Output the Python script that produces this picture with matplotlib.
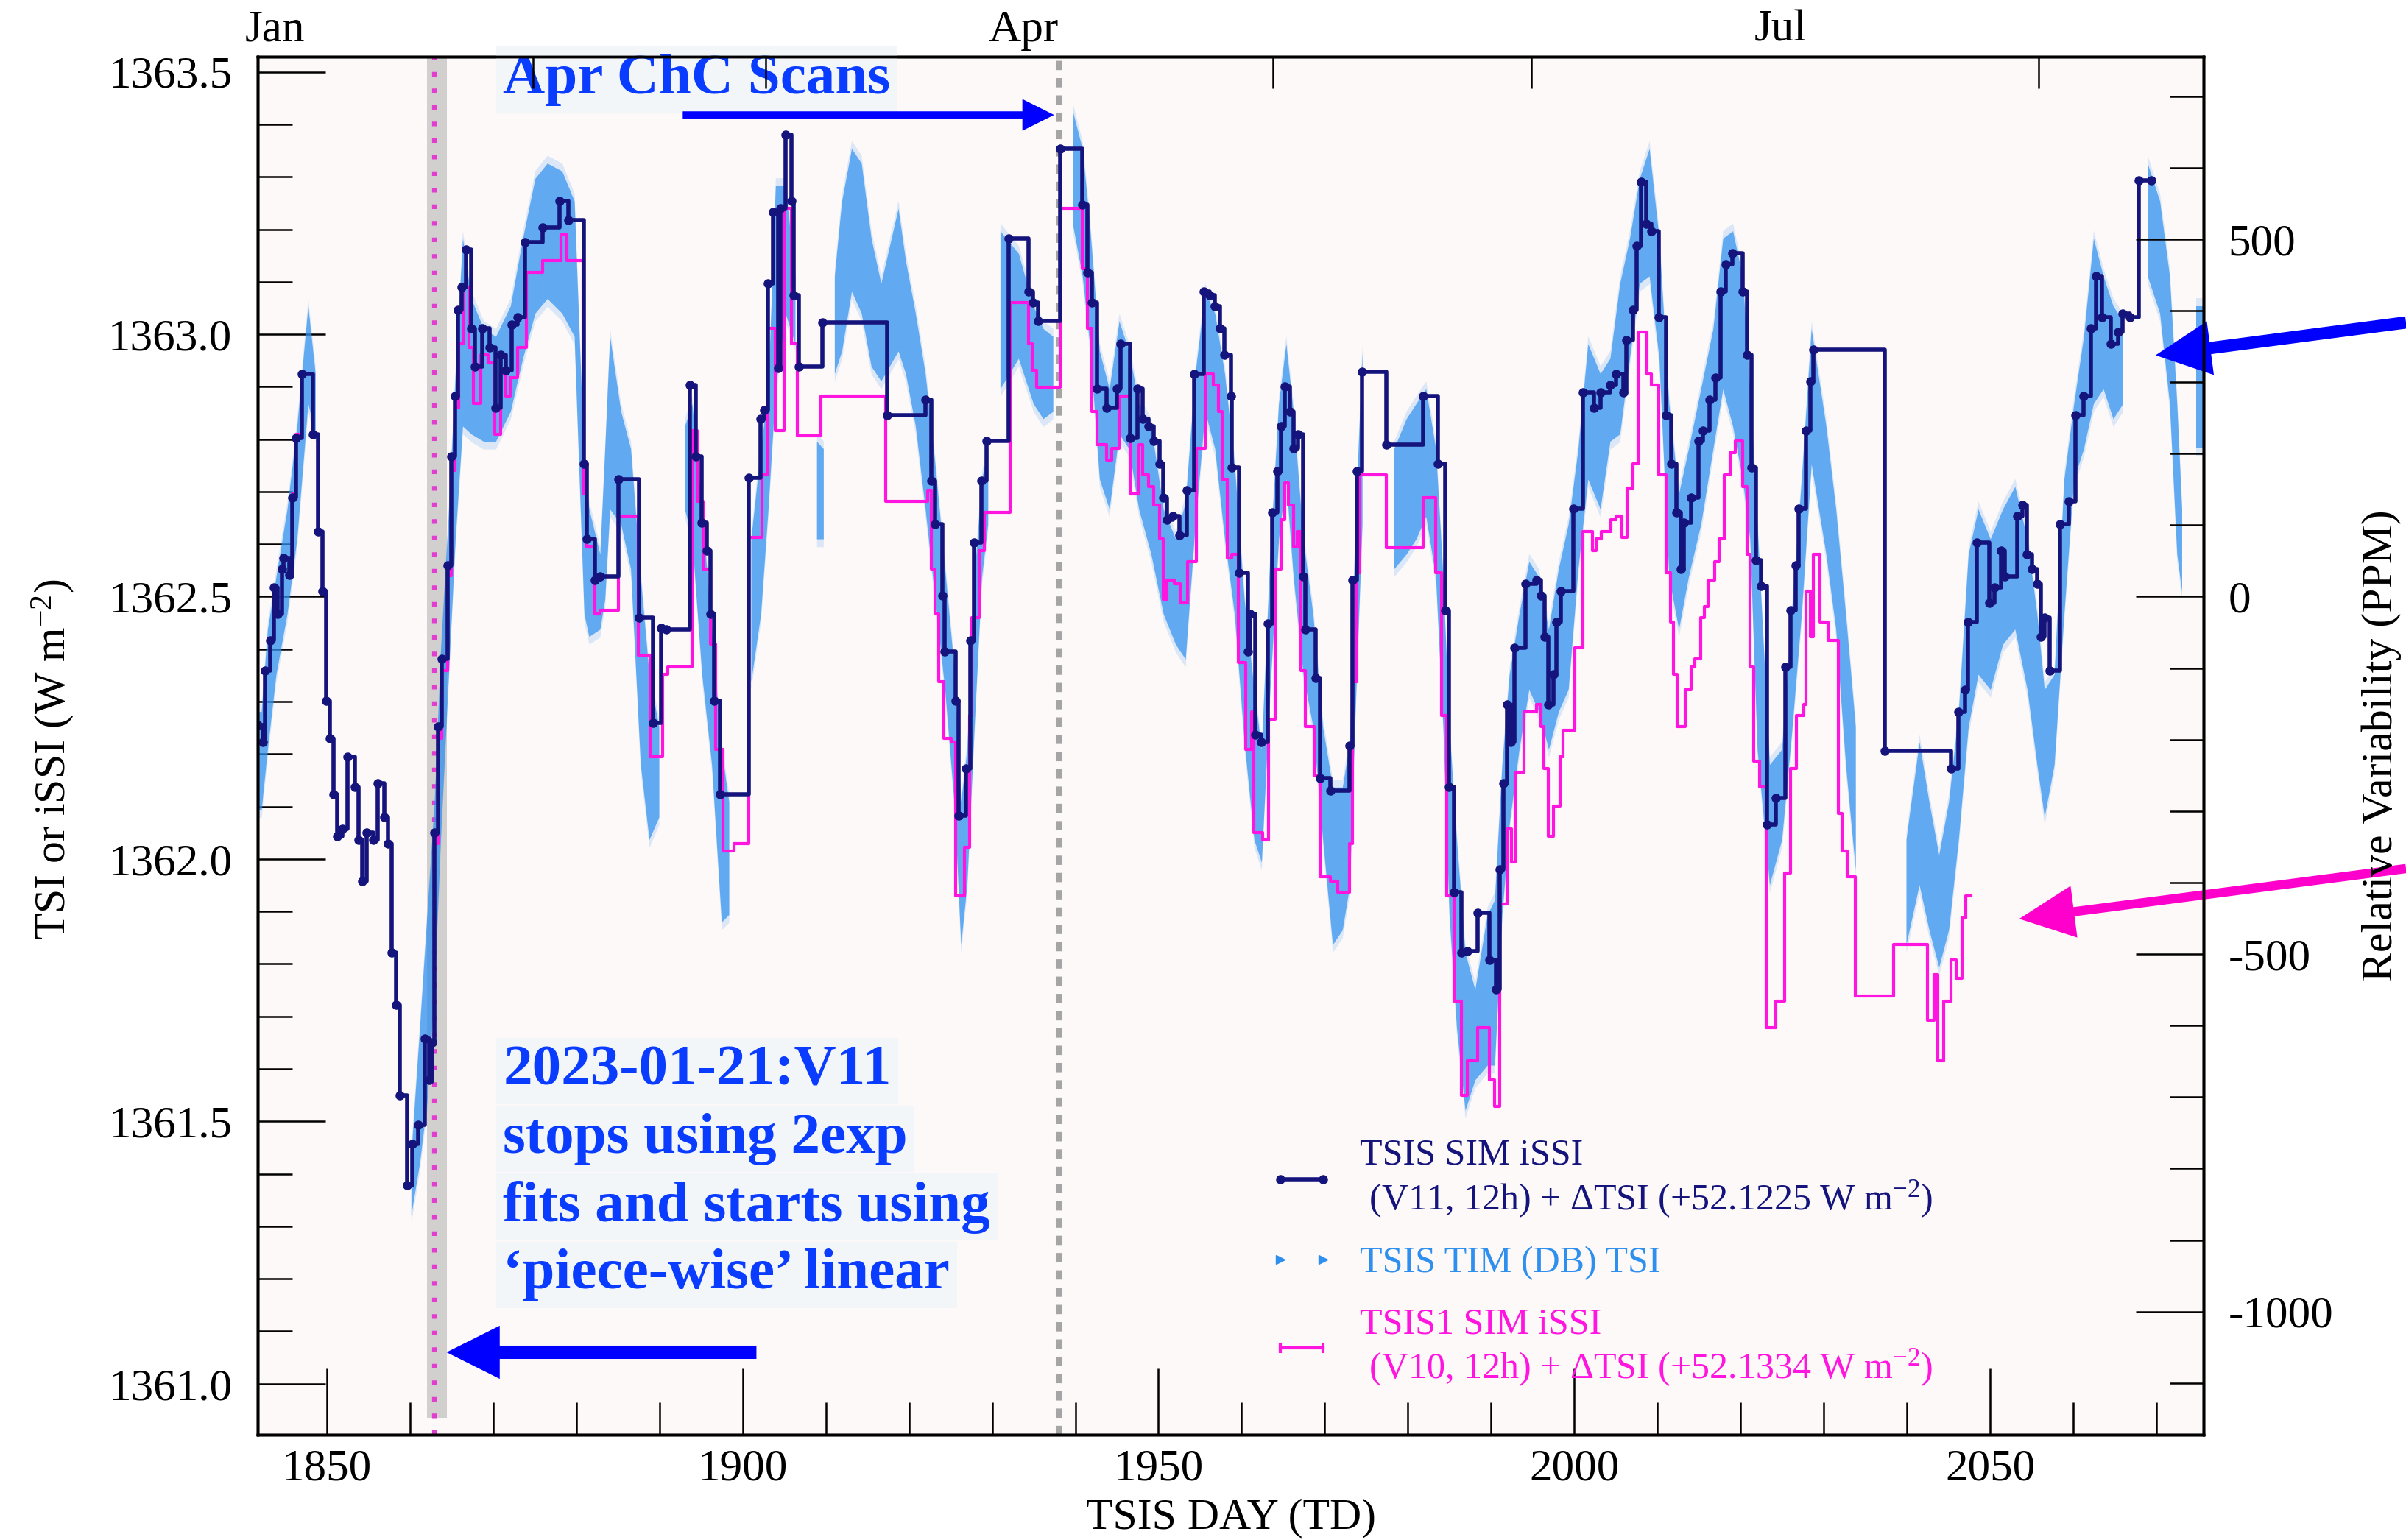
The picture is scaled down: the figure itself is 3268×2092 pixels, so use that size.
import matplotlib
matplotlib.use("Agg")
import matplotlib.pyplot as plt
from matplotlib.lines import Line2D
from matplotlib.ticker import MultipleLocator, FixedLocator

plt.rcParams['font.family'] = ['Liberation Serif', 'DejaVu Serif']
plt.rcParams['mathtext.fontset'] = 'custom'
plt.rcParams['mathtext.rm'] = 'Liberation Serif'
plt.rcParams['mathtext.it'] = 'Liberation Serif:italic'
plt.rcParams['mathtext.bf'] = 'Liberation Serif:bold'
plt.rcParams['axes.unicode_minus'] = False

# TSIS SIM iSSI V11 (step start day, W m-2)
v11 = [
    (1841.69, 1362.255), (1842.28, 1362.223), (1842.58, 1362.359), (1843.17, 1362.416),
    (1843.61, 1362.517), (1844.05, 1362.467), (1844.64, 1362.553), (1844.79, 1362.574),
    (1845.53, 1362.541), (1845.82, 1362.689), (1846.26, 1362.803), (1847.00, 1362.925),
    (1848.33, 1362.810), (1848.92, 1362.624), (1849.51, 1362.510), (1849.95, 1362.302),
    (1850.40, 1362.230), (1850.84, 1362.123), (1851.28, 1362.044), (1851.87, 1362.058),
    (1852.46, 1362.195), (1853.35, 1362.137), (1853.79, 1362.037), (1854.23, 1361.958),
    (1854.82, 1362.051), (1855.56, 1362.037), (1856.15, 1362.144), (1856.89, 1362.080),
    (1857.33, 1362.030), (1857.77, 1361.822), (1858.36, 1361.722), (1858.81, 1361.550),
    (1859.69, 1361.378), (1860.28, 1361.457), (1861.02, 1361.493), (1861.76, 1361.658),
    (1862.35, 1361.579), (1862.70, 1361.650), (1862.94, 1362.051), (1863.38, 1362.252),
    (1863.82, 1362.381), (1864.56, 1362.560), (1865.00, 1362.767), (1865.45, 1362.882),
    (1865.74, 1363.047), (1866.18, 1363.090), (1866.77, 1363.161), (1867.36, 1363.011),
    (1867.81, 1362.939), (1868.69, 1363.011), (1869.58, 1362.975), (1870.31, 1362.860),
    (1870.90, 1362.961), (1871.50, 1362.932), (1872.23, 1363.018), (1872.97, 1363.032),
    (1873.86, 1363.175), (1875.92, 1363.204), (1877.99, 1363.254), (1879.02, 1363.218),
    (1880.94, 1362.753), (1881.23, 1362.610), (1882.26, 1362.531), (1882.85, 1362.538),
    (1885.07, 1362.724), (1887.57, 1362.460), (1889.20, 1362.259), (1890.23, 1362.441),
    (1890.82, 1362.438), (1893.62, 1362.903), (1894.36, 1362.767), (1895.10, 1362.641),
    (1895.69, 1362.588), (1896.13, 1362.467), (1896.58, 1362.302), (1897.31, 1362.123),
    (1900.71, 1362.727), (1902.18, 1362.839), (1902.62, 1362.856), (1903.07, 1363.097),
    (1903.66, 1363.233), (1904.25, 1362.936), (1904.54, 1363.240), (1905.13, 1363.380),
    (1905.87, 1363.254), (1906.17, 1363.075), (1906.76, 1362.939), (1909.56, 1363.022),
    (1917.38, 1362.846), (1921.96, 1362.875), (1922.70, 1362.721), (1923.14, 1362.638),
    (1924.03, 1362.502), (1924.32, 1362.395), (1925.65, 1362.302), (1925.94, 1362.083),
    (1926.83, 1362.173), (1927.42, 1362.416), (1927.86, 1362.603), (1928.75, 1362.721),
    (1929.34, 1362.796), (1931.99, 1363.183), (1934.36, 1363.082), (1934.95, 1363.061),
    (1935.54, 1363.025), (1938.19, 1363.354), (1940.85, 1363.247), (1941.44, 1363.118),
    (1942.03, 1363.061), (1942.62, 1362.896), (1943.80, 1362.860), (1944.98, 1362.896),
    (1945.42, 1362.982), (1946.60, 1362.803), (1947.49, 1362.896), (1948.08, 1362.839),
    (1948.81, 1362.825), (1949.40, 1362.796), (1950.14, 1362.753), (1950.59, 1362.689),
    (1951.03, 1362.646), (1951.77, 1362.653), (1952.50, 1362.617), (1953.39, 1362.703),
    (1954.27, 1362.925), (1955.45, 1363.082), (1956.19, 1363.075), (1956.78, 1363.054),
    (1957.37, 1363.011), (1957.96, 1362.961), (1958.70, 1362.882), (1958.85, 1362.746),
    (1959.73, 1362.545), (1960.76, 1362.395), (1961.06, 1362.467), (1961.65, 1362.237),
    (1962.39, 1362.223), (1963.12, 1362.449), (1963.71, 1362.660), (1964.30, 1362.739),
    (1964.75, 1362.825), (1965.19, 1362.900), (1965.78, 1362.853), (1966.22, 1362.782),
    (1966.81, 1362.810), (1967.40, 1362.538), (1967.70, 1362.438), (1968.88, 1362.345),
    (1969.47, 1362.154), (1970.65, 1362.130), (1973.01, 1362.216), (1973.31, 1362.531),
    (1973.90, 1362.739), (1974.49, 1362.928), (1977.44, 1362.789), (1981.86, 1362.882),
    (1983.63, 1362.753), (1984.52, 1362.474), (1984.96, 1362.137), (1985.55, 1361.937),
    (1986.44, 1361.822), (1987.17, 1361.825), (1988.36, 1361.897), (1989.83, 1361.808),
    (1990.57, 1361.751), (1991.01, 1361.980), (1991.45, 1362.144), (1991.90, 1362.295),
    (1992.34, 1362.223), (1992.78, 1362.402), (1994.11, 1362.524), (1995.44, 1362.531),
    (1996.03, 1362.502), (1996.47, 1362.424), (1996.91, 1362.295), (1997.50, 1362.352),
    (1997.81, 1362.452), (1998.40, 1362.510), (1999.87, 1362.667), (2001.05, 1362.889),
    (2002.38, 1362.860), (2003.12, 1362.889), (2004.30, 1362.903), (2005.03, 1362.925),
    (2005.92, 1362.889), (2006.22, 1362.989), (2007.10, 1363.047), (2007.54, 1363.168),
    (2007.99, 1363.290), (2008.66, 1363.211), (2009.31, 1363.197), (2010.20, 1363.032),
    (2011.08, 1362.846), (2011.67, 1362.753), (2012.27, 1362.660), (2012.80, 1362.553),
    (2013.15, 1362.641), (2014.04, 1362.689), (2014.92, 1362.796), (2015.51, 1362.817),
    (2016.25, 1362.875), (2016.99, 1362.918), (2017.58, 1363.082), (2018.17, 1363.133),
    (2019.05, 1363.154), (2020.23, 1363.082), (2020.82, 1362.961), (2021.27, 1362.746),
    (2021.86, 1362.570), (2022.45, 1362.521), (2023.18, 1362.066), (2024.22, 1362.116),
    (2025.40, 1362.366), (2025.99, 1362.474), (2026.58, 1362.560), (2027.02, 1362.667),
    (2027.90, 1362.817), (2028.35, 1362.911), (2028.73, 1362.971), (2037.35, 1362.206),
    (2045.31, 1362.173), (2046.20, 1362.281), (2046.94, 1362.323), (2047.38, 1362.452),
    (2048.41, 1362.603), (2049.89, 1362.488), (2050.48, 1362.517), (2051.36, 1362.588),
    (2051.80, 1362.538), (2053.28, 1362.653), (2053.87, 1362.674), (2054.46, 1362.581),
    (2055.05, 1362.553), (2055.64, 1362.524), (2056.08, 1362.424), (2056.53, 1362.460),
    (2057.12, 1362.359), (2058.44, 1362.638), (2059.48, 1362.681), (2060.22, 1362.846),
    (2061.25, 1362.882), (2062.13, 1363.011), (2062.72, 1363.111), (2063.46, 1363.032),
    (2064.49, 1362.982), (2065.38, 1363.004), (2065.97, 1363.040), (2066.85, 1363.032),
    (2067.89, 1363.294), (2069.36, 1363.294),
]

# TSIS1 SIM iSSI V10 (step start day, W m-2)
v10 = [
    (1841.69, 1362.255), (1842.28, 1362.223), (1842.58, 1362.359), (1843.17, 1362.416),
    (1843.61, 1362.517), (1844.05, 1362.467), (1844.64, 1362.553), (1844.79, 1362.574),
    (1845.53, 1362.541), (1845.82, 1362.696), (1846.26, 1362.810), (1847.00, 1362.925),
    (1848.33, 1362.810), (1848.92, 1362.624), (1849.51, 1362.510), (1849.95, 1362.302),
    (1850.40, 1362.230), (1850.84, 1362.123), (1851.28, 1362.044), (1851.87, 1362.058),
    (1852.46, 1362.195), (1853.35, 1362.137), (1853.79, 1362.037), (1854.23, 1361.958),
    (1854.82, 1362.051), (1855.56, 1362.037), (1856.15, 1362.144), (1856.89, 1362.080),
    (1857.33, 1362.030), (1857.77, 1361.822), (1858.36, 1361.722), (1858.81, 1361.550),
    (1859.69, 1361.378), (1860.28, 1361.457), (1861.02, 1361.493), (1861.76, 1361.658),
    (1862.35, 1361.579), (1862.70, 1361.650), (1862.94, 1362.030), (1863.38, 1362.230),
    (1863.82, 1362.359), (1864.56, 1362.540), (1865.00, 1362.740), (1865.45, 1362.860),
    (1865.89, 1362.982), (1866.48, 1363.090), (1867.07, 1362.975), (1867.66, 1362.868),
    (1868.54, 1362.961), (1869.43, 1362.946), (1870.17, 1362.810), (1870.90, 1362.925),
    (1871.50, 1362.882), (1872.08, 1362.918), (1872.97, 1362.975), (1874.00, 1363.118),
    (1875.92, 1363.140), (1878.13, 1363.190), (1878.87, 1363.140), (1880.79, 1362.696),
    (1881.23, 1362.595), (1882.26, 1362.467), (1882.85, 1362.474), (1885.07, 1362.653),
    (1887.43, 1362.388), (1888.90, 1362.195), (1890.38, 1362.352), (1890.97, 1362.366),
    (1893.92, 1362.817), (1894.51, 1362.681), (1895.25, 1362.553), (1896.13, 1362.409),
    (1896.72, 1362.209), (1897.61, 1362.016), (1898.94, 1362.030), (1900.71, 1362.613),
    (1902.33, 1362.732), (1903.07, 1363.011), (1903.95, 1362.817), (1904.99, 1363.240),
    (1905.87, 1362.982), (1906.61, 1362.806), (1909.41, 1362.882), (1917.23, 1362.681),
    (1922.26, 1362.703), (1922.70, 1362.553), (1923.14, 1362.467), (1923.58, 1362.338),
    (1924.17, 1362.230), (1925.06, 1362.223), (1925.65, 1361.930), (1926.68, 1362.023),
    (1927.27, 1362.273), (1927.57, 1362.460), (1928.45, 1362.588), (1929.04, 1362.660),
    (1932.14, 1363.061), (1934.36, 1362.982), (1934.80, 1362.932), (1935.39, 1362.899),
    (1938.19, 1363.240), (1940.85, 1363.125), (1941.44, 1363.011), (1942.03, 1362.853),
    (1942.62, 1362.789), (1943.80, 1362.760), (1944.39, 1362.782), (1945.27, 1362.882),
    (1946.60, 1362.696), (1947.63, 1362.789), (1948.08, 1362.732), (1948.81, 1362.710),
    (1949.40, 1362.674), (1950.14, 1362.610), (1950.59, 1362.495), (1951.03, 1362.531),
    (1951.91, 1362.524), (1952.65, 1362.488), (1953.54, 1362.567), (1954.57, 1362.782),
    (1955.60, 1362.925), (1956.64, 1362.903), (1957.23, 1362.853), (1957.67, 1362.724),
    (1958.26, 1362.574), (1958.85, 1362.581), (1959.58, 1362.374), (1960.47, 1362.209),
    (1961.21, 1362.281), (1961.50, 1362.051), (1962.53, 1362.037), (1963.27, 1362.266),
    (1964.01, 1362.553), (1964.75, 1362.646), (1965.19, 1362.717), (1965.63, 1362.674),
    (1966.22, 1362.595), (1966.67, 1362.624), (1967.11, 1362.359), (1967.70, 1362.252),
    (1968.73, 1362.159), (1969.47, 1361.966), (1970.65, 1361.958), (1971.53, 1361.937),
    (1973.01, 1362.030), (1973.31, 1362.338), (1973.90, 1362.545), (1974.19, 1362.732),
    (1977.44, 1362.593), (1981.86, 1362.689), (1983.34, 1362.545), (1984.08, 1362.273),
    (1984.67, 1361.930), (1985.55, 1361.729), (1986.44, 1361.550), (1987.17, 1361.615),
    (1988.36, 1361.679), (1989.83, 1361.579), (1990.42, 1361.529), (1991.01, 1361.915),
    (1991.90, 1362.058), (1992.49, 1361.994), (1992.93, 1362.166), (1993.96, 1362.281),
    (1995.44, 1362.295), (1996.03, 1362.252), (1996.32, 1362.173), (1996.91, 1362.044),
    (1997.50, 1362.101), (1998.25, 1362.195), (1998.69, 1362.245), (2000.02, 1362.402),
    (2001.05, 1362.624), (2002.23, 1362.588), (2002.67, 1362.610), (2003.26, 1362.624),
    (2004.44, 1362.646), (2005.03, 1362.653), (2005.77, 1362.613), (2006.36, 1362.707),
    (2007.10, 1362.753), (2007.69, 1363.004), (2008.72, 1362.925), (2009.31, 1362.903),
    (2010.20, 1362.732), (2011.08, 1362.545), (2011.53, 1362.452), (2011.97, 1362.352),
    (2012.41, 1362.252), (2013.30, 1362.323), (2014.04, 1362.366), (2014.48, 1362.381),
    (2015.22, 1362.460), (2015.66, 1362.481), (2016.10, 1362.531), (2016.84, 1362.567),
    (2017.43, 1362.610), (2018.02, 1362.732), (2018.76, 1362.774), (2019.35, 1362.796),
    (2020.23, 1362.710), (2020.82, 1362.581), (2021.12, 1362.366), (2021.56, 1362.187),
    (2022.30, 1362.137), (2023.04, 1361.679), (2024.22, 1361.729), (2025.25, 1361.973),
    (2025.99, 1362.173), (2026.72, 1362.273), (2027.61, 1362.295), (2027.90, 1362.510),
    (2028.35, 1362.424), (2028.79, 1362.581), (2029.53, 1362.452), (2030.56, 1362.416),
    (2031.74, 1362.087), (2032.18, 1362.016), (2032.78, 1361.966), (2033.81, 1361.739),
    (2038.38, 1361.837), (2042.51, 1361.693), (2043.25, 1361.779), (2043.69, 1361.615),
    (2044.43, 1361.729), (2045.31, 1361.808), (2045.90, 1361.772), (2046.64, 1361.887),
    (2047.08, 1361.930), (2047.67, 1361.930),
]

# TSIS TIM (DB) TSI point cloud: (day, lower edge, upper edge) per data stretch
tim_segments = [
    [(1841.69, 1362.094, 1362.281), (1842.13, 1362.094, 1362.281), (1842.87, 1362.209, 1362.438),
     (1843.90, 1362.352, 1362.538), (1845.23, 1362.467, 1362.667), (1846.41, 1362.610, 1362.825),
     (1847.74, 1362.868, 1363.054), (1848.62, 1362.810, 1362.925)],
    [(1860.13, 1361.321, 1361.436), (1861.17, 1361.421, 1361.679), (1862.05, 1361.536, 1361.894),
     (1862.94, 1361.751, 1362.109), (1863.68, 1362.037, 1362.395), (1864.56, 1362.323, 1362.638),
     (1865.45, 1362.610, 1362.925), (1866.33, 1362.825, 1363.183), (1867.36, 1362.810, 1363.068),
     (1868.84, 1362.796, 1363.011), (1870.31, 1362.796, 1362.996), (1872.08, 1362.853, 1363.054),
     (1873.56, 1362.954, 1363.183), (1875.04, 1363.040, 1363.297), (1876.51, 1363.068, 1363.326),
     (1878.28, 1363.040, 1363.311), (1879.76, 1362.996, 1363.254), (1880.94, 1362.467, 1362.753),
     (1881.53, 1362.424, 1362.667), (1882.85, 1362.438, 1362.581), (1883.44, 1362.495, 1362.782),
     (1884.03, 1362.667, 1362.996), (1885.36, 1362.638, 1362.853), (1886.54, 1362.553, 1362.782),
     (1887.72, 1362.180, 1362.538), (1888.76, 1362.037, 1362.352), (1889.94, 1362.080, 1362.252)],
    [(1893.03, 1362.667, 1362.825), (1893.92, 1362.610, 1362.868), (1895.10, 1362.352, 1362.667),
     (1896.28, 1362.180, 1362.438), (1897.46, 1361.880, 1362.209), (1898.35, 1361.894, 1362.109)],
    [(1901.00, 1362.338, 1362.610), (1902.18, 1362.467, 1362.782), (1903.07, 1362.667, 1362.896),
     (1903.95, 1362.896, 1363.283), (1905.13, 1363.040, 1363.283), (1906.31, 1362.982, 1363.111)],
    [(1908.90, 1362.610, 1362.796), (1909.71, 1362.610, 1362.782)],
    [(1911.04, 1362.925, 1363.111), (1911.92, 1362.968, 1363.254), (1913.10, 1363.082, 1363.354),
     (1914.28, 1363.040, 1363.326), (1915.46, 1362.939, 1363.183), (1916.64, 1362.911, 1363.097),
     (1918.71, 1362.968, 1363.240), (1919.60, 1362.925, 1363.140), (1920.78, 1362.825, 1363.040),
     (1921.96, 1362.667, 1362.925), (1923.14, 1362.495, 1362.753), (1924.32, 1362.323, 1362.553),
     (1925.50, 1362.094, 1362.352), (1926.24, 1361.837, 1362.109), (1926.98, 1361.951, 1362.209),
     (1927.86, 1362.252, 1362.538), (1928.75, 1362.538, 1362.724), (1929.49, 1362.638, 1362.782)],
    [(1930.96, 1362.896, 1363.197), (1933.17, 1362.954, 1363.154), (1934.95, 1362.868, 1363.054),
     (1936.13, 1362.839, 1363.011), (1937.31, 1362.853, 1362.996)],
    [(1939.67, 1363.211, 1363.426), (1940.85, 1363.111, 1363.354), (1941.73, 1362.982, 1363.211),
     (1942.91, 1362.724, 1362.968), (1944.09, 1362.667, 1362.896), (1945.27, 1362.810, 1363.025),
     (1946.45, 1362.782, 1362.968), (1947.63, 1362.667, 1362.868), (1949.11, 1362.581, 1362.825),
     (1950.59, 1362.467, 1362.667), (1952.06, 1362.409, 1362.610), (1953.24, 1362.381, 1362.681),
     (1954.42, 1362.638, 1362.925), (1955.60, 1362.853, 1363.082), (1956.78, 1362.782, 1363.040),
     (1957.96, 1362.610, 1362.925), (1959.14, 1362.467, 1362.753), (1960.32, 1362.223, 1362.495),
     (1961.50, 1362.037, 1362.323), (1962.39, 1361.994, 1362.209), (1963.42, 1362.323, 1362.581),
     (1964.45, 1362.610, 1362.868), (1965.34, 1362.724, 1362.982), (1966.22, 1362.538, 1362.853),
     (1967.40, 1362.352, 1362.610), (1968.58, 1362.252, 1362.467), (1969.76, 1362.037, 1362.252),
     (1970.94, 1361.837, 1362.137), (1972.12, 1361.865, 1362.137), (1973.01, 1361.951, 1362.223),
     (1973.60, 1362.252, 1362.610), (1974.49, 1362.638, 1362.968)],
    [(1978.32, 1362.553, 1362.782), (1979.80, 1362.581, 1362.839), (1980.98, 1362.610, 1362.868),
     (1982.16, 1362.653, 1362.896), (1983.34, 1362.538, 1362.782), (1984.22, 1362.252, 1362.538),
     (1984.96, 1361.894, 1362.252), (1985.85, 1361.679, 1362.037), (1986.88, 1361.521, 1361.822),
     (1988.06, 1361.579, 1361.751), (1989.54, 1361.607, 1361.894), (1990.42, 1361.607, 1361.922),
     (1991.31, 1361.894, 1362.180), (1992.19, 1362.066, 1362.352), (1993.37, 1362.209, 1362.467),
     (1994.55, 1362.323, 1362.567), (1995.73, 1362.281, 1362.538), (1996.91, 1362.209, 1362.438),
     (1998.10, 1362.281, 1362.553), (1999.28, 1362.323, 1362.638), (2000.46, 1362.553, 1362.782),
     (2001.64, 1362.724, 1362.982), (2003.12, 1362.667, 1362.925), (2004.30, 1362.796, 1362.954),
     (2005.48, 1362.810, 1363.097), (2006.66, 1362.954, 1363.183), (2007.84, 1363.097, 1363.297),
     (2009.02, 1363.111, 1363.354), (2010.20, 1362.954, 1363.183), (2011.38, 1362.538, 1362.868),
     (2012.56, 1362.438, 1362.696), (2013.74, 1362.538, 1362.782), (2015.22, 1362.638, 1362.896),
     (2016.69, 1362.782, 1363.011), (2017.87, 1362.896, 1363.183), (2019.05, 1362.825, 1363.197),
     (2020.23, 1362.724, 1363.111), (2021.12, 1362.610, 1362.896), (2022.00, 1362.209, 1362.638),
     (2023.48, 1361.951, 1362.180), (2024.95, 1362.037, 1362.209), (2026.13, 1362.237, 1362.467),
     (2027.32, 1362.467, 1362.724), (2028.50, 1362.753, 1363.011), (2030.27, 1362.581, 1362.825),
     (2031.45, 1362.438, 1362.667), (2032.63, 1362.180, 1362.467), (2033.81, 1361.980, 1362.252)],
    [(2039.90, 1361.837, 1362.037), (2041.48, 1361.951, 1362.223), (2042.66, 1361.865, 1362.109),
     (2043.84, 1361.794, 1362.008), (2045.02, 1361.865, 1362.109), (2046.20, 1362.037, 1362.281),
     (2047.38, 1362.252, 1362.581), (2048.56, 1362.352, 1362.667), (2050.03, 1362.323, 1362.610),
     (2051.51, 1362.409, 1362.667), (2052.99, 1362.438, 1362.710), (2054.46, 1362.323, 1362.610),
     (2055.64, 1362.180, 1362.467), (2056.53, 1362.080, 1362.323), (2057.71, 1362.180, 1362.352),
     (2058.89, 1362.467, 1362.724), (2060.07, 1362.724, 1362.868), (2061.25, 1362.782, 1362.996),
     (2062.43, 1362.868, 1363.183), (2063.61, 1362.896, 1363.111), (2064.79, 1362.839, 1363.054),
     (2065.97, 1362.868, 1363.025)],
    [(2068.92, 1363.111, 1363.326), (2070.40, 1363.040, 1363.254), (2071.58, 1362.868, 1363.111),
     (2072.46, 1362.581, 1362.868), (2073.05, 1362.510, 1362.667)],
    [(2074.80, 1362.782, 1363.054), (2075.68, 1362.782, 1363.054)],
]

labels = ['TSIS SIM iSSI\n (V11, 12h) + ΔTSI (+52.1225 W m$^{-2}$)',
          'TSIS TIM (DB) TSI',
          'TSIS1 SIM iSSI\n (V10, 12h) + ΔTSI (+52.1334 W m$^{-2}$)']

ref_tsi = 1362.5          # 0 PPM on the right axis
v11_switch_day = 1862.9   # 2023-01-21
chc_scan_day = 1938.0
jan1 = 1843.8
month_offsets = [0, 31, 59, 90, 120, 151, 181, 212]
month_names = ['Jan', 'Feb', 'Mar', 'Apr', 'May', 'Jun', 'Jul', 'Aug']
note_lines = ['2023-01-21:V11', 'stops using 2exp', 'fits and starts using',
              '\u2018piece-wise\u2019 linear']

navy = '#14147c'
magenta = '#ff14e0'
skyblue = '#2e8fef'
note_blue = '#0a3cff'

fig = plt.figure(figsize=(32.68, 20.92), dpi=100)
ax = fig.add_axes([0.1071, 0.0684, 0.8088, 0.8948])
ax.set_facecolor('#fdf9f8')
ax.set_xlim(1841.69, 2075.68)
ax.set_ylim(1360.903, 1363.529)

ax.axvspan(1862.05, 1864.4, ymin=0.012, ymax=1, color='#d2cfcf', lw=0, zorder=1)
ax.axvline(v11_switch_day, color='#e23cd0', lw=4.5, ls=(0, (1, 2.6)), zorder=1.5)
ax.axvline(chc_scan_day, color='#a5a5a5', lw=6.5, ls=(0, (1.4, 1.2)), zorder=1.5)

for seg in tim_segments:
    d = [p[0] for p in seg]
    lo = [p[1] for p in seg]
    hi = [p[2] for p in seg]
    ax.fill_between(d, [v - 0.015 for v in lo], [v + 0.015 for v in hi],
                    color=skyblue, alpha=0.16, lw=0, zorder=2)
    ax.fill_between(d, lo, hi, color=skyblue, alpha=0.7, lw=0, zorder=2)

md = [p[0] for p in v10]
mv = [p[1] for p in v10]
ax.plot(md, mv, drawstyle='steps-post', color=magenta, lw=3, zorder=3)

nd = [p[0] for p in v11]
nv = [p[1] for p in v11]
ax.plot(nd, nv, drawstyle='steps-post', color=navy, lw=4, zorder=4)
ax.plot(nd, nv, ls='none', marker='o', ms=8, color=navy, zorder=4)

# legend
handles = [Line2D([], [], color=navy, lw=4, marker='o', ms=8),
           Line2D([], [], color=skyblue, lw=0, marker='>', ms=8),
           Line2D([], [], color=magenta, lw=3, marker='|', ms=10, mew=3)]
ax.legend(handles, labels, loc='upper left', bbox_to_anchor=(0.52, 0.215),
          frameon=False, fontsize=36, numpoints=2, handlelength=1.75,
          handletextpad=0.7, labelspacing=0.72, borderpad=0, borderaxespad=0,
          labelcolor=[navy, skyblue, magenta])

# notes
box = dict(facecolor='#f3f6f9', edgecolor='none', boxstyle='square,pad=0.12')
ax.text(1871.2, 1363.485, 'Apr ChC Scans', color=note_blue, fontsize=57,
        fontweight='bold', ha='left', va='center', bbox=box, zorder=5)
for i, line in enumerate(note_lines):
    ax.text(1871.2, 1361.596 - i * 0.1295, line, color=note_blue, fontsize=57,
            fontweight='bold', ha='left', va='center', bbox=box, zorder=5)


def fat_arrow(tip, tail, color, tail_w, head_w, head_l, coords='data'):
    style = 'simple,head_length=%g,head_width=%g,tail_width=%g' % (head_l, head_w, tail_w)
    a = ax.annotate('', xy=tip, xycoords='data', xytext=tail, textcoords=coords,
                    arrowprops=dict(arrowstyle=style, color=color, lw=0,
                                    shrinkA=0, shrinkB=0, mutation_scale=1),
                    annotation_clip=False, zorder=6)
    a.set_clip_on(False)
    a.arrow_patch.set_clip_on(False)


fat_arrow((1937.45, 1363.418), (1892.8, 1363.418), '#0000ff', 7, 31, 31)
fat_arrow((1864.4, 1361.06), (1901.66, 1361.06), '#0000ff', 13, 52, 52)
fat_arrow((2069.9, 1362.96), (1.0, 0.7906), '#0000ff', 12, 53, 54, 'figure fraction')
fat_arrow((2053.5, 1361.886), (1.0, 0.436), '#ff00cc', 9, 51, 54, 'figure fraction')

# axes and ticks
for s in ax.spines.values():
    s.set_linewidth(2.5)
ax.xaxis.set_major_locator(MultipleLocator(50))
ax.xaxis.set_minor_locator(MultipleLocator(10))
ax.yaxis.set_major_locator(MultipleLocator(0.5))
ax.yaxis.set_minor_locator(MultipleLocator(0.1))
ax.yaxis.set_major_formatter(plt.FormatStrFormatter('%.1f'))
ax.tick_params(axis='both', which='both', direction='in', width=1.8,
               top=False, right=False, labelsize=44)
ax.tick_params(axis='y', which='major', length=66, pad=25)
ax.tick_params(axis='y', which='minor', length=34)
ax.tick_params(axis='x', which='major', length=65, pad=14)
ax.tick_params(axis='x', which='minor', length=32)
ax.set_xlabel('TSIS DAY (TD)', fontsize=43, labelpad=8)
ax.set_ylabel('TSI or iSSI (W m$^{-2}$)', fontsize=43)
ax.yaxis.set_label_coords(-0.093, 0.49)

ax2 = ax.twinx()
lo_lim, hi_lim = ax.get_ylim()
ax2.set_ylim((lo_lim - ref_tsi) / ref_tsi * 1e6, (hi_lim - ref_tsi) / ref_tsi * 1e6)
ax2.yaxis.set_major_locator(MultipleLocator(500))
ax2.yaxis.set_minor_locator(MultipleLocator(100))
ax2.tick_params(axis='y', which='both', direction='in', width=1.8, labelsize=44)
ax2.tick_params(axis='y', which='major', length=66, pad=24)
ax2.tick_params(axis='y', which='minor', length=33)
ax2.set_ylabel('Relative Variability (PPM)', fontsize=43)
ax2.yaxis.set_label_coords(1.081, 0.5)

ax3 = ax.twiny()
ax3.set_xlim(ax.get_xlim())
month_days = [jan1 + m for m in month_offsets]
ax3.xaxis.set_major_locator(FixedLocator([month_days[0], month_days[3], month_days[6]]))
ax3.set_xticklabels([month_names[0], month_names[3], month_names[6]])
ax3.xaxis.set_minor_locator(FixedLocator([d for i, d in enumerate(month_days) if i % 3]))
ax3.tick_params(axis='x', which='both', direction='in', width=1.8, labelsize=44)
ax3.tick_params(axis='x', which='major', length=0, pad=6)
ax3.tick_params(axis='x', which='minor', length=31)

for a in (ax2, ax3):
    for s in a.spines.values():
        s.set_linewidth(2.5)

fig.savefig('out.png', dpi=100, facecolor='white')
